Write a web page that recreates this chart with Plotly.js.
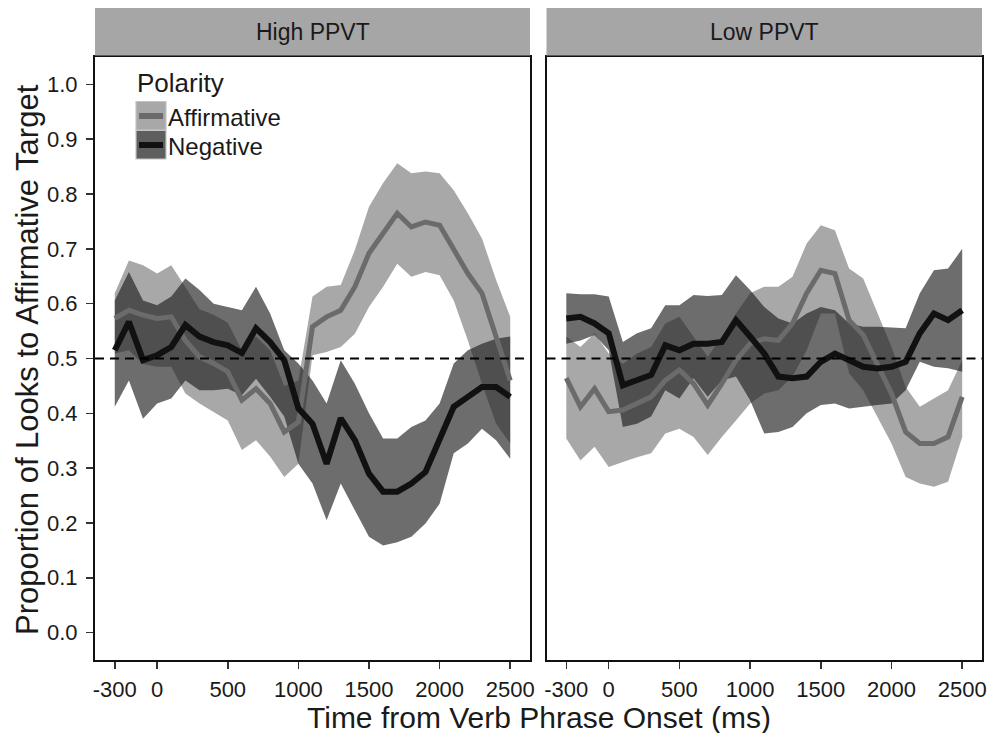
<!DOCTYPE html>
<html>
<head>
<meta charset="utf-8">
<script src="https://cdn.plot.ly/plotly-3.0.1.min.js"></script>
<style>html,body{margin:0;padding:0;background:#fff;}#chart{width:992px;height:733px;}</style>
</head>
<body>
<div id="chart"></div>
<script>
// ---------------- data ----------------
var panels = ["High PPVT", "Low PPVT"];
var seriesNames = ["Affirmative", "Negative"];
var timeMs = [-300,-200,-100,0,100,200,300,400,500,600,700,800,900,1000,1100,1200,1300,1400,1500,1600,1700,1800,1900,2000,2100,2200,2300,2400,2500];
var xTicks = [-300,0,500,1000,1500,2000,2500];
var yTicks = [0,0.1,0.2,0.3,0.4,0.5,0.6,0.7,0.8,0.9,1.0];
var chanceLevel = 0.5;

// High PPVT - Affirmative
var highAffMean  = [0.573,0.588,0.579,0.573,0.576,0.533,0.503,0.491,0.476,0.424,0.445,0.418,0.366,0.384,0.558,0.576,0.588,0.631,0.692,0.728,0.765,0.740,0.749,0.743,0.698,0.655,0.619,0.540,0.460];
var highAffUpper = [0.619,0.679,0.670,0.655,0.670,0.630,0.590,0.580,0.565,0.515,0.540,0.515,0.450,0.460,0.613,0.631,0.634,0.698,0.777,0.820,0.856,0.838,0.841,0.838,0.807,0.765,0.719,0.643,0.576];
var highAffLower = [0.509,0.515,0.490,0.485,0.485,0.436,0.418,0.403,0.387,0.333,0.351,0.321,0.284,0.308,0.506,0.512,0.521,0.545,0.594,0.631,0.673,0.649,0.658,0.652,0.606,0.533,0.454,0.381,0.345];
// High PPVT - Negative
var highNegMean  = [0.515,0.567,0.497,0.506,0.521,0.561,0.540,0.530,0.524,0.510,0.555,0.530,0.497,0.409,0.381,0.308,0.391,0.351,0.290,0.257,0.257,0.272,0.293,0.350,0.412,0.430,0.448,0.448,0.430];
var highNegUpper = [0.606,0.658,0.606,0.597,0.613,0.646,0.625,0.600,0.594,0.588,0.631,0.582,0.515,0.491,0.460,0.418,0.497,0.454,0.400,0.354,0.354,0.375,0.387,0.418,0.491,0.515,0.527,0.536,0.540];
var highNegLower = [0.412,0.460,0.390,0.418,0.427,0.460,0.442,0.442,0.445,0.433,0.463,0.430,0.394,0.308,0.272,0.205,0.272,0.223,0.175,0.159,0.165,0.175,0.199,0.235,0.327,0.345,0.372,0.351,0.317];
// Low PPVT - Affirmative
var lowAffMean  = [0.464,0.412,0.445,0.403,0.406,0.418,0.430,0.460,0.479,0.454,0.415,0.454,0.497,0.527,0.536,0.533,0.564,0.619,0.661,0.655,0.570,0.543,0.491,0.436,0.366,0.345,0.345,0.357,0.430];
var lowAffUpper = [0.540,0.521,0.546,0.509,0.490,0.509,0.521,0.564,0.576,0.540,0.503,0.540,0.582,0.619,0.631,0.631,0.649,0.710,0.743,0.734,0.664,0.646,0.582,0.521,0.448,0.412,0.427,0.442,0.497];
var lowAffLower = [0.354,0.314,0.339,0.302,0.311,0.320,0.327,0.363,0.372,0.357,0.324,0.357,0.387,0.418,0.436,0.442,0.467,0.515,0.582,0.582,0.473,0.442,0.394,0.345,0.284,0.272,0.266,0.275,0.357];
// Low PPVT - Negative
var lowNegMean  = [0.573,0.576,0.564,0.546,0.451,0.460,0.470,0.524,0.515,0.527,0.527,0.530,0.570,0.540,0.509,0.467,0.464,0.467,0.494,0.509,0.497,0.485,0.482,0.485,0.494,0.546,0.582,0.570,0.588];
var lowNegUpper = [0.619,0.617,0.617,0.613,0.530,0.546,0.555,0.597,0.597,0.616,0.614,0.616,0.652,0.625,0.594,0.573,0.564,0.582,0.594,0.588,0.564,0.558,0.558,0.557,0.555,0.619,0.661,0.664,0.700];
var lowNegLower = [0.527,0.533,0.543,0.515,0.375,0.381,0.394,0.442,0.427,0.464,0.430,0.460,0.467,0.424,0.363,0.366,0.375,0.400,0.415,0.418,0.409,0.412,0.415,0.418,0.442,0.494,0.485,0.482,0.476];

// ---------------- styles ----------------
var FONT = "Liberation Sans, Arial, Helvetica, sans-serif";
var TXT = "#1a1a1a";
var affFill = "#a8a8a8";
var negFill = "rgba(30,30,30,0.65)";
var affLine = "#6b6b6b";
var negLine = "#111111";
var stripFill = "#a6a6a6";

function ribbon(xa, ya, upper, lower, color, name) {
  var xs = timeMs.concat(timeMs.slice().reverse());
  var ys = upper.concat(lower.slice().reverse());
  return {x: xs, y: ys, xaxis: xa, yaxis: ya, type: "scatter", mode: "lines",
          fill: "toself", fillcolor: color, line: {width: 0, color: color},
          hoverinfo: "skip", showlegend: false, name: name + " CI"};
}
function meanLine(xa, ya, vals, color, w, name) {
  return {x: timeMs, y: vals, xaxis: xa, yaxis: ya, type: "scatter", mode: "lines",
          line: {color: color, width: w, shape: "linear"}, showlegend: false, name: name};
}

var traces = [
  ribbon("x", "y", highAffUpper, highAffLower, affFill, seriesNames[0]),
  ribbon("x", "y", highNegUpper, highNegLower, negFill, seriesNames[1]),
  meanLine("x", "y", highAffMean, affLine, 5, seriesNames[0]),
  meanLine("x", "y", highNegMean, negLine, 6, seriesNames[1]),
  ribbon("x2", "y2", lowAffUpper, lowAffLower, affFill, seriesNames[0]),
  ribbon("x2", "y2", lowNegUpper, lowNegLower, negFill, seriesNames[1]),
  meanLine("x2", "y2", lowAffMean, affLine, 5, seriesNames[0]),
  meanLine("x2", "y2", lowNegMean, negLine, 6, seriesNames[1])
];

var W = 992, H = 733;
function px(v) { return v / W; }
function py(v) { return 1 - v / H; }

var xDom1 = [px(95), px(530)];
var xDom2 = [px(546.5), px(982)];
var yDom = [py(660), py(57)];

var axisCommon = {
  showgrid: false, zeroline: false, showline: true, mirror: true,
  linecolor: "#111", linewidth: 2, ticks: "outside", ticklen: 7, tickwidth: 1.5,
  tickcolor: "#333", tickfont: {family: FONT, size: 22, color: TXT}
};
function xaxis(dom, anchor) {
  return Object.assign({}, axisCommon, {domain: dom, anchor: anchor, range: [-440, 2640],
    tickmode: "array", tickvals: xTicks, ticktext: xTicks.map(String), ticklabelstandoff: 2});
}

var layout = {
  width: W, height: H,
  margin: {l: 0, r: 0, t: 0, b: 0},
  paper_bgcolor: "#fff", plot_bgcolor: "#fff",
  showlegend: false,
  xaxis: xaxis(xDom1, "y"),
  xaxis2: xaxis(xDom2, "y2"),
  yaxis: Object.assign({}, axisCommon, {domain: yDom, anchor: "x", range: [-0.05, 1.05],
    tickmode: "array", tickvals: yTicks, ticktext: yTicks.map(function(v){return v.toFixed(1);}),
    ticklabelstandoff: 4}),
  yaxis2: Object.assign({}, axisCommon, {domain: yDom, anchor: "x2", range: [-0.05, 1.05],
    ticks: "", showticklabels: false}),
  shapes: [],
  annotations: []
};

// reference line at chance
["x", "x2"].forEach(function(xa, i) {
  layout.shapes.push({type: "line", xref: xa + " domain", x0: 0, x1: 1,
    yref: (i === 0 ? "y" : "y2"), y0: chanceLevel, y1: chanceLevel,
    line: {color: "#000", width: 2, dash: "9px,6px"}, layer: "above"});
});

// facet strips
[xDom1, xDom2].forEach(function(d, i) {
  layout.shapes.push({type: "rect", xref: "paper", yref: "paper",
    x0: d[0], x1: d[1], y0: py(55.5), y1: py(8),
    fillcolor: stripFill, line: {width: 0}});
  layout.annotations.push({xref: "paper", yref: "paper", x: (d[0] + d[1]) / 2, y: py(32),
    text: panels[i], showarrow: false, xanchor: "center", yanchor: "middle",
    font: {family: FONT, size: 23, color: TXT}});
});

// legend (manual, ggplot style)
layout.annotations.push({xref: "paper", yref: "paper", x: px(135), y: py(83), text: "Polarity",
  showarrow: false, xanchor: "left", yanchor: "middle", font: {family: FONT, size: 26, color: TXT}});
var keyFills = [affFill, "#5e5e5e"], keyLines = [affLine, negLine], keyTop = [101.5, 130.5];
seriesNames.forEach(function(nm, i) {
  layout.shapes.push({type: "rect", xref: "paper", yref: "paper",
    x0: px(136), x1: px(166), y0: py(keyTop[i] + 28.5), y1: py(keyTop[i]),
    fillcolor: keyFills[i], line: {color: "#c4c4c4", width: 1.2}});
  layout.shapes.push({type: "line", xref: "paper", yref: "paper",
    x0: px(139), x1: px(163), y0: py(keyTop[i] + 14.5), y1: py(keyTop[i] + 14.5),
    line: {color: keyLines[i], width: 6}});
  layout.annotations.push({xref: "paper", yref: "paper", x: px(166), y: py(keyTop[i] + 16),
    text: nm, showarrow: false, xanchor: "left", yanchor: "middle",
    font: {family: FONT, size: 24, color: TXT}});
});

// axis titles
layout.annotations.push({xref: "paper", yref: "paper", x: px(538.5), y: py(717),
  text: "Time from Verb Phrase Onset (ms)", showarrow: false, xanchor: "center", yanchor: "middle",
  font: {family: FONT, size: 30, color: TXT}});
layout.annotations.push({xref: "paper", yref: "paper", x: px(27), y: py(360),
  text: "Proportion of Looks to Affirmative Target", showarrow: false, textangle: -90,
  xanchor: "center", yanchor: "middle", font: {family: FONT, size: 31, color: TXT}});

Plotly.newPlot("chart", traces, layout, {displayModeBar: false, staticPlot: true});
</script>
</body>
</html>
